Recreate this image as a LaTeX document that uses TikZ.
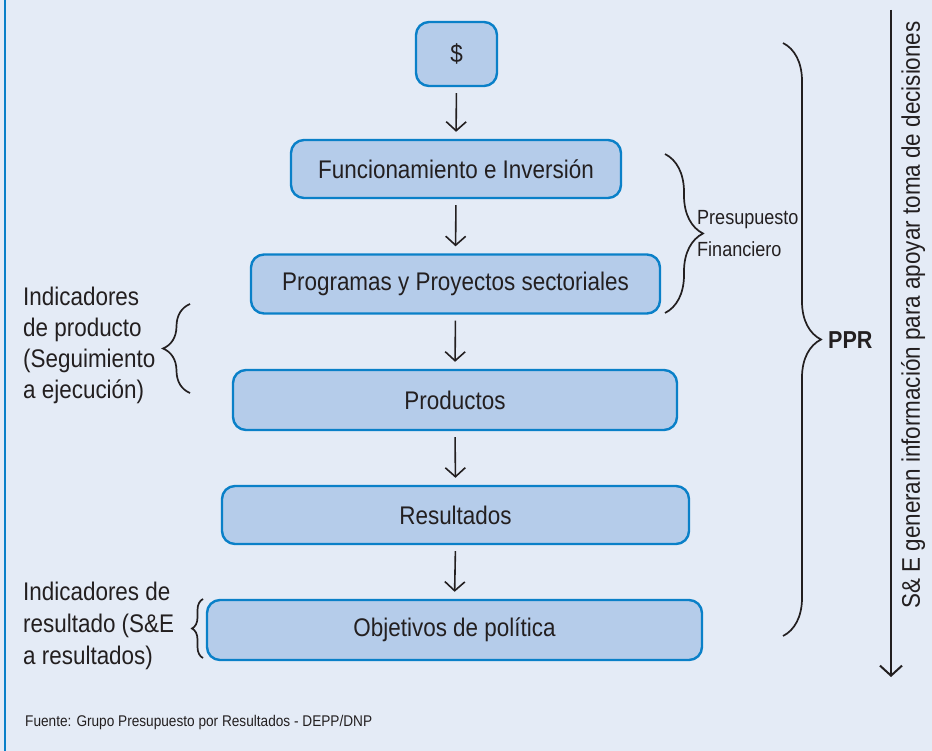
\documentclass[tikz,border=0pt]{standalone}
\usepackage{fontspec}
\setmainfont{Liberation Sans}[FakeStretch=0.88]
\usetikzlibrary{arrows.meta,decorations.pathreplacing}
\definecolor{bgc}{HTML}{E4EBF6}
\definecolor{boxfill}{HTML}{B5CCEA}
\definecolor{boxline}{HTML}{0A80C8}
\definecolor{ink}{HTML}{231F20}
\tikzset{
  flowbox/.style={draw=boxline, fill=boxfill, line width=2.4pt, rounded corners=13pt,
    inner sep=0pt, text=ink, font=\fontsize{25.5}{30}\selectfont},
  flowarrow/.style={draw=ink, line width=1.6pt, -{Straight Barb[length=9pt,width=20pt,line width=1.6pt]},
    shorten <=6pt, shorten >=7pt},
  bracestyle/.style={draw=ink, line width=1.7pt, decorate},
  lbl/.style={text=ink, inner sep=0pt, align=left},
}
\begin{document}
\begin{tikzpicture}[x=1pt,y=-1pt]
\fill[bgc] (0,0) rectangle (932,751);
\useasboundingbox (0,0) rectangle (932,751);
\draw[boxline, line width=2.6pt] (5,0) -- (5,751);

\node[flowbox, minimum width=81pt, minimum height=64pt] (d) at (456.5,54) {\$};
\node[flowbox, minimum width=330pt, minimum height=58pt] (f) at (456,169) {Funcionamiento e Inversión};
\node[flowbox, minimum width=409pt, minimum height=59pt] (p) at (455.5,284) {Programas y Proyectos sectoriales};
\node[flowbox, minimum width=444pt, minimum height=60pt] (pr) at (455,400) {Productos};
\node[flowbox, minimum width=467pt, minimum height=58pt] (r) at (455.5,515) {Resultados};
\node[flowbox, minimum width=495pt, minimum height=60pt] (o) at (454.5,630) {Objetivos de política};

\draw[flowarrow] (d.south) -- (f.north);
\draw[flowarrow] (f.south) -- (p.north);
\draw[flowarrow] (p.south) -- (pr.north);
\draw[flowarrow] (pr.south) -- (r.north);
\draw[flowarrow] (r.south) -- (o.north);

% Presupuesto financiero brace
\coordinate (pfa) at (665,154);
\coordinate (pfb) at (665,313);
\draw[bracestyle, decoration={brace, amplitude=38pt}] (pfa) -- (pfb);
\node[lbl, anchor=west, font=\fontsize{20.5}{32}\selectfont] (pft) at (697,234) {Presupuesto\\Financiero};

% PPR brace
\coordinate (ppa) at (783,43);
\coordinate (ppb) at (783,636);
\draw[bracestyle, decoration={brace, amplitude=38pt}] (ppa) -- (ppb);
\node[lbl, anchor=west, font=\fontsize{24.5}{30}\bfseries\selectfont] (ppr) at (828,340) {PPR};

% left braces
\coordinate (lpa) at (190,393);
\coordinate (lpb) at (190,304);
\draw[bracestyle, decoration={brace, amplitude=27pt}] (lpa) -- (lpb);
\node[lbl, anchor=north west, font=\fontsize{25.5}{31}\selectfont] (lpt) at (23,287) {Indicadores\\de producto\\(Seguimiento\\a ejecución)};

\coordinate (lra) at (203,658);
\coordinate (lrb) at (203,599);
\draw[bracestyle, decoration={brace, amplitude=11pt}] (lra) -- (lrb);
\node[lbl, anchor=north west, font=\fontsize{25.5}{32}\selectfont] (lrt) at (23,582) {Indicadores de\\resultado (S\&E\\a resultados)};

% vertical arrow and text
\coordinate (va) at (891,10);
\coordinate (vb) at (891,677);
\draw[draw=ink, line width=2pt, -{Straight Barb[length=10pt,width=22pt,line width=2pt]}] (va) -- (vb);
\node[lbl, rotate=90, font=\fontsize{25.5}{30}\selectfont] (vt) at (913,315) {S\& E generan información para apoyar toma de decisiones};

\node[lbl, anchor=base west, font=\fontsize{15.5}{18}\selectfont] (src) at (25,726) {Fuente: Grupo Presupuesto por Resultados - DEPP/DNP};
\end{tikzpicture}
\end{document}
